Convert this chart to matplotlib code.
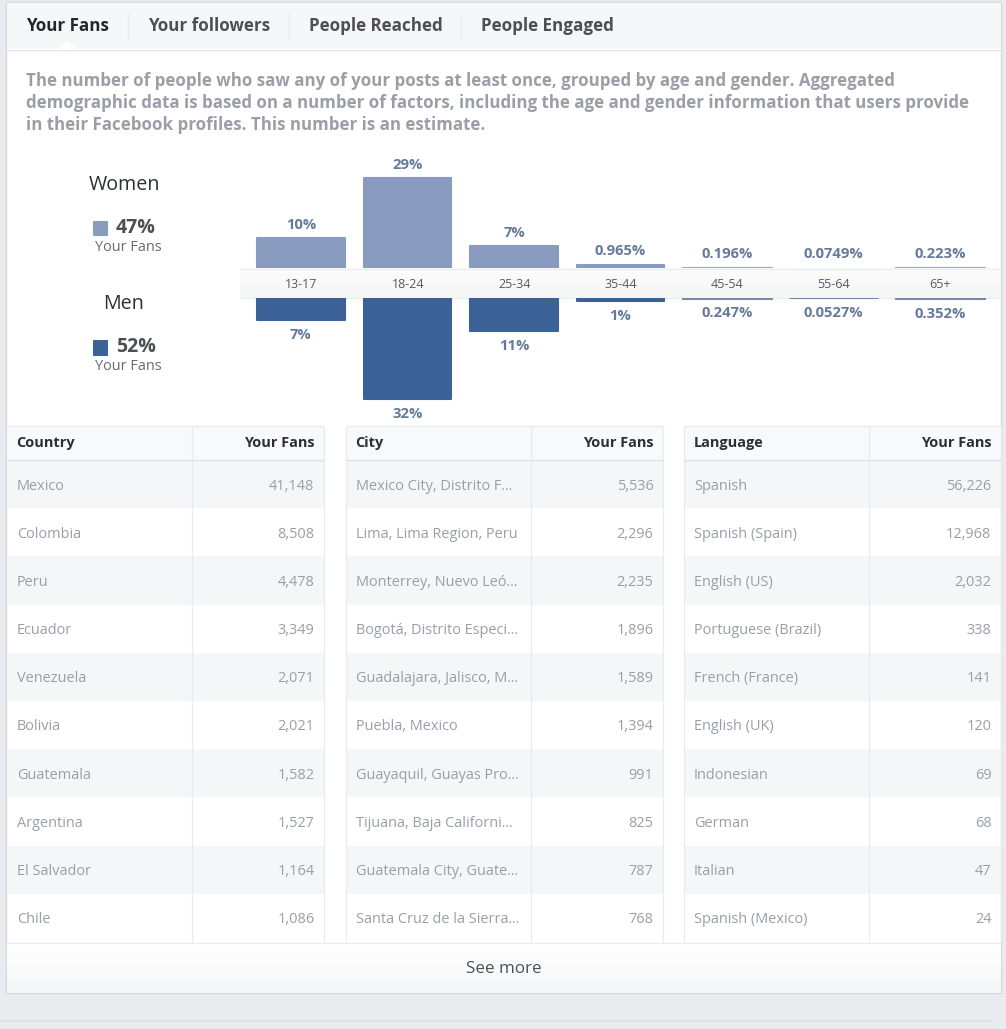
import matplotlib
matplotlib.use("Agg")
import matplotlib.pyplot as plt
from matplotlib.patches import Rectangle, Polygon
import numpy as np

plt.rcParams['font.family'] = ['Open Sans', 'Noto Sans', 'DejaVu Sans']

W, H = 1006, 1029

# data
ages = ["13-17", "18-24", "25-34", "35-44", "45-54", "55-64", "65+"]
women = [9.6, 29, 7, 0.965, 0.196, 0.0749, 0.223]
men = [7, 32, 10.4, 1, 0.247, 0.0527, 0.352]
women_labels = ["10%", "29%", "7%", "0.965%", "0.196%", "0.0749%", "0.223%"]
men_labels = ["7%", "32%", "11%", "1%", "0.247%", "0.0527%", "0.352%"]

tabs = ["Your Fans", "Your followers", "People Reached", "People Engaged"]
tab_x = [26, 148, 309, 481]
tab_seps = [128, 289, 461]

description = ["The number of people who saw any of your posts at least once, grouped by age and gender. Aggregated",
               "demographic data is based on a number of factors, including the age and gender information that users provide",
               "in their Facebook profiles. This number is an estimate."]

countries = ["Mexico", "Colombia", "Peru", "Ecuador", "Venezuela", "Bolivia", "Guatemala", "Argentina", "El Salvador", "Chile"]
country_fans = ["41,148", "8,508", "4,478", "3,349", "2,071", "2,021", "1,582", "1,527", "1,164", "1,086"]
cities = ["Mexico City, Distrito F...", "Lima, Lima Region, Peru", "Monterrey, Nuevo Leó...", "Bogotá, Distrito Especi...",
          "Guadalajara, Jalisco, M...", "Puebla, Mexico", "Guayaquil, Guayas Pro...", "Tijuana, Baja Californi...",
          "Guatemala City, Guate...", "Santa Cruz de la Sierra..."]
city_fans = ["5,536", "2,296", "2,235", "1,896", "1,589", "1,394", "991", "825", "787", "768"]
languages = ["Spanish", "Spanish (Spain)", "English (US)", "Portuguese (Brazil)", "French (France)", "English (UK)",
             "Indonesian", "German", "Italian", "Spanish (Mexico)"]
language_fans = ["56,226", "12,968", "2,032", "338", "141", "120", "69", "68", "47", "24"]

WOMEN_COL = "#8a9bc0"
MEN_COL = "#3b6197"
BG = "#e9ebee"
LINE = "#e9ebee"
SHADE = "#f5f6f8"


def px(size):
    return size * 0.72


fig = plt.figure(figsize=(W / 100, H / 100), dpi=100, facecolor=BG)

# whole page in pixel coords
ui = fig.add_axes([0, 0, 1, 1])
ui.set_xlim(0, W)
ui.set_ylim(H, 0)
ui.axis("off")


def box(x0, y0, x1, y1, color, z=1, **kw):
    ui.add_patch(Rectangle((x0, y0), x1 - x0, y1 - y0, facecolor=color, edgecolor="none", zorder=z, **kw))


def swatch(x0, y0, x1, y1, color):
    ui.add_patch(Rectangle((x0 + 1, y0 + 1), x1 - x0 - 2, y1 - y0 - 2, facecolor=color, edgecolor=color, lw=1.5,
                           joinstyle="round", zorder=5))


def hline(y, x0, x1, color=LINE, lw=1, z=3):
    ui.plot([x0, x1], [y, y], color=color, lw=lw, zorder=z, solid_capstyle="butt")


def vline(x, y0, y1, color=LINE, lw=1, z=3):
    ui.plot([x, x], [y0, y1], color=color, lw=lw, zorder=z, solid_capstyle="butt")


# panel
ui.add_patch(Rectangle((6.5, 2), 995, 991, facecolor="white", edgecolor="#d6d9de", lw=1, zorder=1))
hline(1021, 0, 993, color="#dfe1e5", lw=1.5)

# tabs
box(7, 3, 1001, 49, "#f6f7f9", z=2)
hline(49.5, 7, 1001, color="#e2e4e8")
ui.add_patch(Polygon([[55, 50], [67, 41], [79, 50]], closed=True, facecolor="white", edgecolor="none", zorder=4))
for i in range(len(tabs)):
    col = "#23272e" if i == 0 else "#4b4f56"
    ui.text(tab_x[i], 25.7, tabs[i], fontsize=px(17.0), fontweight="bold", color=col, va="center", zorder=5)
for x in tab_seps:
    vline(x, 13, 40)

# description
for i, line in enumerate(description):
    ui.text(26.5, 81 + i * 22, line, fontsize=px(16.83), fontweight="bold", color="#9a9ea6", va="center", zorder=5)

# legend on the left
ui.text(124, 185, "Women", fontsize=px(19.8), color="#2b2f36", ha="center", va="center", zorder=5)
swatch(93, 221, 108, 236, WOMEN_COL)
ui.text(116, 228, "47%", fontsize=px(19.5), fontweight="bold", color="#4b4f56", va="center", zorder=5)
ui.text(128, 247.5, "Your Fans", fontsize=px(14.5), color="#666a72", ha="center", va="center", zorder=5)
ui.text(124, 304, "Men", fontsize=px(19.8), color="#2b2f36", ha="center", va="center", zorder=5)
swatch(93, 340, 108, 356, MEN_COL)
ui.text(116, 347, "52%", fontsize=px(19.5), fontweight="bold", color="#4b4f56", va="center", zorder=5)
ui.text(128, 366.5, "Your Fans", fontsize=px(14.5), color="#666a72", ha="center", va="center", zorder=5)

# age band between the two bar groups
ui.imshow(np.linspace(1, 0, 30).reshape(-1, 1), extent=(240, 1000, 298, 268), aspect="auto", zorder=2,
          cmap=matplotlib.colors.LinearSegmentedColormap.from_list("band", ["#f5f6f6", "#fcfcfc"]))
ui.set_xlim(0, W)
ui.set_ylim(H, 0)
hline(268.5, 240, 1000, color="#eceded")
hline(298, 240, 1000, color="#eceded")

# bars: categories land at 301 + 106.5*i px
PPU_TOP = 3.1
PPU_BOT = 3.17
x_left = (240 - 301) / 106.5
x_right = (1000 - 301) / 106.5
top = fig.add_axes([240 / W, 1 - 268 / H, 760 / W, 118 / H], facecolor="none")
top.set_xlim(x_left, x_right)
top.set_ylim(0, 118 / PPU_TOP)
bot = fig.add_axes([240 / W, 1 - 425 / H, 760 / W, 127 / H], facecolor="none")
bot.set_xlim(x_left, x_right)
bot.set_ylim(127 / PPU_BOT, 0)
for ax in (top, bot):
    ax.axis("off")

x = np.arange(len(ages))
top.bar(x[:4], women[:4], width=0.825, color=WOMEN_COL, edgecolor=WOMEN_COL, linewidth=1.5, joinstyle="round")
bot.bar(x[:4], men[:4], width=0.825, color=MEN_COL, edgecolor=MEN_COL, linewidth=1.5, joinstyle="round")
# the tiny bars still show as thin lines
top.bar(x[4:], women[4:], width=0.845, color="#a3a8b3", edgecolor="#a3a8b3", linewidth=0.8)
bot.bar(x[4:], men[4:], width=0.845, color="#7688a8", edgecolor="#7688a8", linewidth=0.8)

for i in range(len(ages)):
    top.annotate(women_labels[i], (x[i], women[i]), xytext=(0, 4.7), textcoords="offset points", ha="center", va="bottom",
                 fontsize=px(14.7), fontweight="bold", color="#667a99", clip_on=False)
    bot.annotate(men_labels[i], (x[i], men[i]), xytext=(0, -5.5), textcoords="offset points", ha="center", va="top",
                 fontsize=px(14.7), fontweight="bold", color="#667a99", clip_on=False)
    ui.text(301.5 + 106.5 * i, 284, ages[i], fontsize=px(12.5), color="#555a62", ha="center", va="center", zorder=5)

# tables
tables = [(7, 192, 324, "Country", countries, country_fans),
          (346, 531, 663, "City", cities, city_fans),
          (684, 869, 1001, "Language", languages, language_fans)]
row_h = 48.2
head_top, head_bot = 426, 460
for x0, xm, x1, head, names, fans in tables:
    box(x0, head_top, x1, head_bot, "#f8f9fa", z=2)
    ui.text(x0 + 9.5, 443, head, fontsize=px(14.5), fontweight="bold", color="#2b2f36", va="center", zorder=5)
    ui.text(x1 - 9.5, 443, "Your Fans", fontsize=px(14.5), fontweight="bold", color="#2b2f36", ha="right", va="center", zorder=5)
    hline(head_top, x0, x1)
    hline(head_bot, x0, x1, color="#dfe1e5")
    for r in range(len(names)):
        y0 = head_bot + r * row_h
        if r % 2 == 0:
            box(x0, y0, x1, y0 + row_h, SHADE, z=2)
        yc = y0 + 26
        ui.text(x0 + 10, yc, names[r], fontsize=px(14.5), color="#9a9ea6", va="center", zorder=5)
        ui.text(x1 - 9.5, yc, fans[r], fontsize=px(14.5), color="#9a9ea6", ha="right", va="center", zorder=5)
    vline(xm, head_top, 942)
    vline(x1, head_top, 942)
    if x0 > 7:
        vline(x0, head_top, 942)

# see more
ui.imshow(np.linspace(0, 1, 50).reshape(-1, 1), extent=(7, 1001, 993, 943), aspect="auto", zorder=2,
          cmap=matplotlib.colors.LinearSegmentedColormap.from_list("more", ["#ffffff", "#f5f6f8"]))
ui.set_xlim(0, W)
ui.set_ylim(H, 0)
hline(942.5, 7, 1001)
ui.text(504, 969, "See more", fontsize=px(17), color="#4b4f56", ha="center", va="center", zorder=5)

fig.savefig("out.png", dpi=100, facecolor=BG)
